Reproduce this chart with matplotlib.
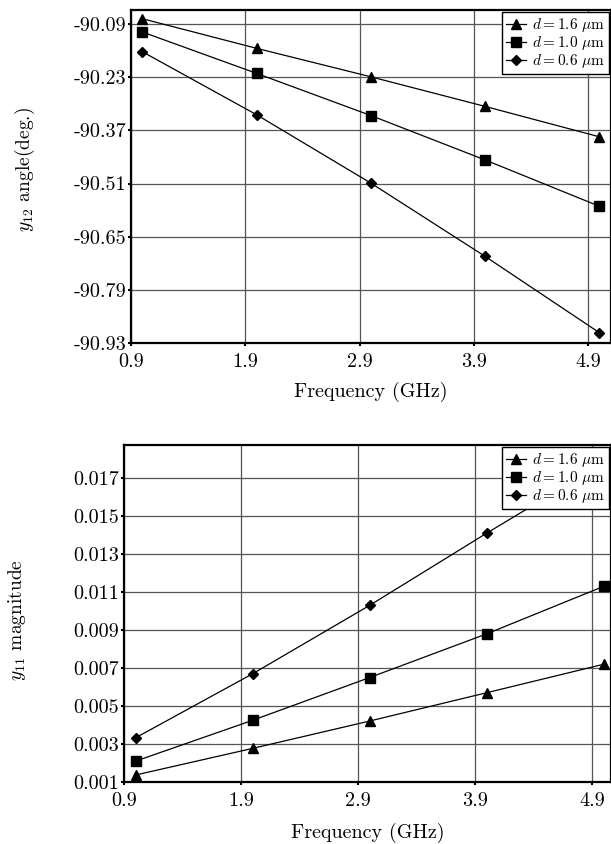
import matplotlib
matplotlib.use("Agg")
import matplotlib.pyplot as plt

plt.rcParams['font.family'] = 'serif'
plt.rcParams['font.serif'] = ['cmr10', 'DejaVu Serif']
plt.rcParams['mathtext.fontset'] = 'cm'
plt.rcParams['axes.formatter.use_mathtext'] = True

# frequency points (GHz)
freq = [1.0, 2.0, 3.0, 4.0, 5.0]
labels = [r'$d = 1.6\ \mu\mathrm{m}$', r'$d = 1.0\ \mu\mathrm{m}$', r'$d = 0.6\ \mu\mathrm{m}$']
markers = ['^', 's', 'D']
msizes = [6.5, 6.5, 4.8]

# y12 angle (deg.)
angle_16 = [-90.076, -90.154, -90.229, -90.307, -90.387]
angle_10 = [-90.111, -90.220, -90.331, -90.448, -90.570]
angle_06 = [-90.163, -90.329, -90.509, -90.702, -90.903]

# y11 magnitude
mag_16 = [0.00137, 0.00277, 0.00421, 0.0057, 0.0072]
mag_10 = [0.0021, 0.00425, 0.0065, 0.0088, 0.0113]
mag_06 = [0.00333, 0.0067, 0.0103, 0.0141, 0.0178]

x_ticks = [0.9, 1.9, 2.9, 3.9, 4.9]
angle_ticks = [-90.09, -90.23, -90.37, -90.51, -90.65, -90.79, -90.93]
mag_ticks = [0.001, 0.003, 0.005, 0.007, 0.009, 0.011, 0.013, 0.015, 0.017]


def style_axes(ax, yticks, yfmt, xpad):
    ax.set_xticks(x_ticks)
    ax.set_xticklabels(['%.1f' % v for v in x_ticks])
    ax.set_yticks(yticks)
    ax.set_yticklabels([yfmt % v for v in yticks])
    ax.grid(True, color='#555555', linewidth=0.9)
    ax.set_axisbelow(True)
    for s in ax.spines.values():
        s.set_linewidth(1.6)
    ax.tick_params(direction='out', length=2.5, width=1.5, labelsize=14.5)
    ax.tick_params(axis='x', pad=5)
    ax.tick_params(axis='y', pad=1)
    ax.set_xlabel('Frequency (GHz)', fontsize=14.5, labelpad=xpad)


def draw(ax, series):
    for ys, lab, m, ms in zip(series, labels, markers, msizes):
        ax.plot(freq, ys, color='black', linewidth=0.9, marker=m, markersize=ms, label=lab)
    leg = ax.legend(loc='upper right', fontsize=11, handlelength=1.3, handletextpad=0.4,
                    labelspacing=0.0, borderpad=0.25, borderaxespad=0.15, fancybox=False,
                    framealpha=1, edgecolor='black')
    leg.get_frame().set_linewidth(1.0)


fig = plt.figure(figsize=(6.11, 8.44), dpi=100)

ax1 = fig.add_axes([131 / 611, 1 - 343 / 844, 480 / 611, 333 / 844])
draw(ax1, [angle_16, angle_10, angle_06])
ax1.set_xlim(0.9, 5.101)
ax1.set_ylim(-90.93, -90.053)
style_axes(ax1, angle_ticks, '%.2f', 7.5)
ax1.set_ylabel(r'$y_{12}$ angle(deg.)', fontsize=14)
ax1.yaxis.set_label_coords(-0.196, 0.52)

ax2 = fig.add_axes([124 / 611, 1 - 782 / 844, 487 / 611, 337 / 844])
draw(ax2, [mag_16, mag_10, mag_06])
ax2.set_xlim(0.9, 5.062)
ax2.set_ylim(0.001, 0.01874)
style_axes(ax2, mag_ticks, '%.3f', 9)
ax2.set_ylabel(r'$y_{11}$ magnitude', fontsize=14)
ax2.yaxis.set_label_coords(-0.197, 0.48)

fig.savefig('out.png', dpi=100)
